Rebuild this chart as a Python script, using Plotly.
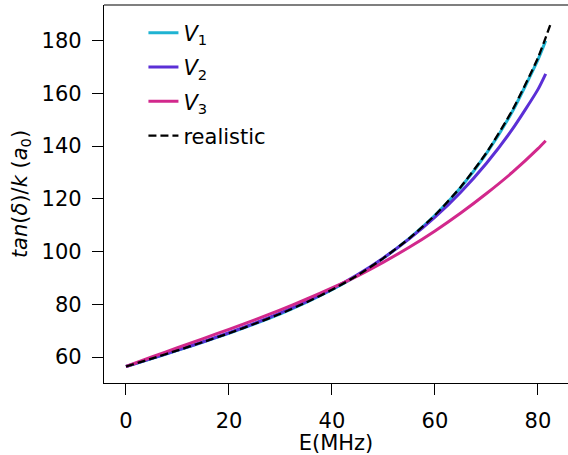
import plotly.graph_objects as go

# Energies (MHz)
E_model = [0, 5, 10, 15, 20, 25, 30, 35, 40, 45, 50, 55, 60, 65, 70, 75, 80, 81.5]
E_real = [0, 5, 10, 15, 20, 25, 30, 35, 40, 45, 50, 55, 60, 65, 70, 75, 80, 82.5]

# tan(delta)/k values (a0)
V1 = [56.4, 59.4, 62.5, 65.7, 69.0, 72.6, 76.4, 80.7, 85.5, 91.0, 97.5, 105.0, 113.7, 124.3, 137.2, 153.0, 172.8, 180.0]
V2 = [56.4, 59.5, 62.6, 65.8, 69.2, 72.8, 76.7, 81.0, 85.8, 91.3, 97.6, 104.8, 113.0, 122.5, 133.5, 146.3, 161.5, 167.4]
V3 = [56.4, 60.0, 63.5, 67.0, 70.5, 74.1, 77.9, 81.9, 86.2, 90.8, 96.0, 101.6, 107.8, 114.6, 122.0, 130.0, 139.0, 142.0]
realistic = [56.4, 59.4, 62.5, 65.7, 69.0, 72.6, 76.4, 80.7, 85.5, 91.0, 97.5, 105.0, 113.8, 124.5, 137.5, 153.5, 173.5, 186.6]

names = ["<i>V</i><sub>1</sub>", "<i>V</i><sub>2</sub>", "<i>V</i><sub>3</sub>", "realistic"]
colors = ["#1fb3d2", "#5b2fd6", "#d2288c", "black"]

fig = go.Figure()
for i, (ys, nm, c) in enumerate(zip([V1, V2, V3], names[:3], colors[:3])):
    fig.add_trace(go.Scatter(x=E_model, y=ys, mode="lines", name=nm,
                             line=dict(color=c, width=3, shape="spline", smoothing=0.6),
                             legendgroup=f"g{i}"))
fig.add_trace(go.Scatter(x=E_real, y=realistic, mode="lines", name=names[3],
                         line=dict(color=colors[3], width=2.3, dash="8px,4px",
                                   shape="spline", smoothing=0.6),
                         legendgroup="g3"))

font = dict(family="DejaVu Sans", size=21, color="black")
fig.update_layout(
    width=568, height=455,
    margin=dict(l=104, r=0, t=5, b=72),
    plot_bgcolor="white", paper_bgcolor="white",
    font=font,
    showlegend=True,
    legend=dict(x=0.085, y=0.98, xanchor="left", yanchor="top",
                bgcolor="rgba(0,0,0,0)", tracegroupgap=4,
                font=dict(family="DejaVu Sans", size=21, color="black")),
    xaxis=dict(range=[-4.27, 85.83], tickvals=[0, 20, 40, 60, 80],
               showgrid=False, zeroline=False, showline=True, linecolor="black",
               linewidth=1.3, ticks="outside", ticklen=11, tickwidth=1.3,
               tickcolor="black", ticklabelstandoff=8,
               tickfont=dict(size=21),
               title=dict(text="E(MHz)", standoff=5, font=dict(size=21))),
    yaxis=dict(range=[50.14, 193.5], tickvals=[60, 80, 100, 120, 140, 160, 180],
               showgrid=False, zeroline=False, showline=True, linecolor="black",
               linewidth=1.3, ticks="outside", ticklen=11, tickwidth=1.3,
               tickcolor="black", ticklabelstandoff=6,
               tickfont=dict(size=21),
               title=dict(text="<i>tan</i>(<i>δ</i>)/<i>k</i> (<i>a</i><sub>0</sub>)",
                          standoff=8, font=dict(size=21))),
)
fig.add_shape(type="line", xref="paper", yref="paper", x0=0, x1=1, y0=1, y1=1,
              line=dict(color="#555555", width=1.3))
fig.write_html("out.html")
